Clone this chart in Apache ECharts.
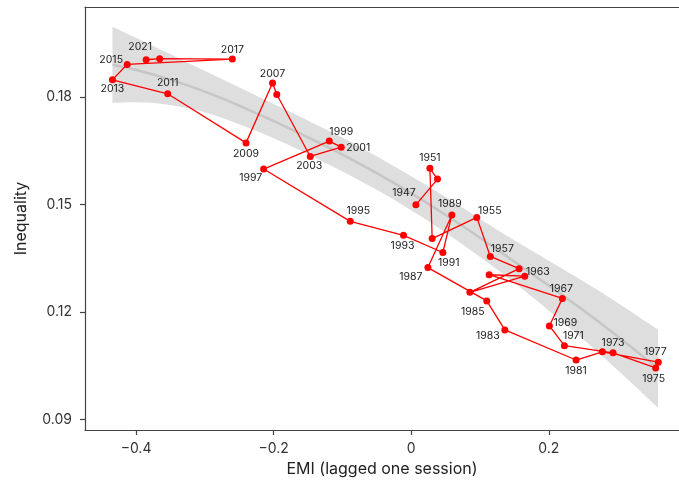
<!DOCTYPE html>
<html>
<head>
<meta charset="utf-8">
<script src="https://cdn.jsdelivr.net/npm/echarts@6/dist/echarts.min.js"></script>
<style>html,body{margin:0;padding:0;background:#fff}#c{width:679px;height:486px}</style>
</head>
<body>
<div id="c"></div>
<script>
// ---- data ----
const years = [1947,1949,1951,1953,1955,1957,1959,1961,1963,1965,1967,1969,1971,1973,1975,1977,1979,1981,1983,1985,1987,1989,1991,1993,1995,1997,1999,2001,2003,2005,2007,2009,2011,2013,2015,2017,2019,2021];
const emi = [0.0068,0.0382,0.0272,0.0305,0.0954,0.1150,0.1569,0.0853,0.1651,0.1133,0.2198,0.2009,0.2227,0.2934,0.3554,0.3592,0.2779,0.2397,0.1361,0.1099,0.0243,0.0591,0.0460,-0.0112,-0.0886,-0.2145,-0.1191,-0.1017,-0.1467,-0.1954,-0.2016,-0.2401,-0.3540,-0.4343,-0.4129,-0.2600,-0.3656,-0.3853];
const inequality = [0.1499,0.1571,0.1601,0.1405,0.1464,0.1355,0.1321,0.1255,0.1300,0.1304,0.1238,0.1161,0.1106,0.1086,0.1044,0.1060,0.1089,0.1066,0.1150,0.1231,0.1324,0.1471,0.1366,0.1414,0.1453,0.1599,0.1677,0.1660,0.1634,0.1807,0.1839,0.1672,0.1809,0.1848,0.1891,0.1906,0.1907,0.1904];
const labeledYears = [1947,1951,1955,1957,1963,1967,1969,1971,1973,1975,1977,1981,1983,1985,1987,1989,1991,1993,1995,1997,1999,2001,2003,2007,2009,2011,2013,2015,2017,2021];

// smoother (loess fit with confidence band)
const fitX = [-0.4343,-0.3791,-0.3065,-0.2338,-0.1612,-0.0886,-0.0160,0.0566,0.1293,0.2019,0.2745,0.3588];
const fitY = [0.1890,0.1865,0.1820,0.1762,0.1698,0.1628,0.1550,0.1463,0.1368,0.1271,0.1170,0.1042];
const bandLower = [0.1784,0.1784,0.1761,0.1712,0.1651,0.1581,0.1503,0.1413,0.1312,0.1201,0.1083,0.0933];
const bandUpper = [0.1996,0.1946,0.1879,0.1812,0.1745,0.1675,0.1597,0.1513,0.1424,0.1341,0.1257,0.1151];

const xTicks = [-0.4,-0.2,0,0.2];
const yTicks = [0.09,0.12,0.15,0.18];

// ---- label placement (pixels, relative to point centre) ----
const labelOffset = {
  1947:[-12,-12],1951:[0,-10],1955:[13,-7],1957:[12,-8],1963:[13,-4],1967:[-1,-10],
  1969:[16,-3],1971:[9,-10],1973:[0,-10],1975:[-2,11],1977:[-3,-10],1981:[0,11],
  1983:[-17,6],1985:[-14,11],1987:[-17,9],1989:[-2,-11],1991:[6,10],1993:[-1,11],
  1995:[8,-11],1997:[-13,9],1999:[12,-9],2001:[17,1],2003:[-1,9],2007:[0,-9],
  2009:[0,11],2011:[0,-11],2013:[0,9],2015:[-16,-5],2017:[0,-9],2021:[-6,-13]
};

const FONT = 'Inter, "Noto Sans", sans-serif';
const fmt = v => (v < 0 ? '\u2212' + Math.abs(v) : String(v));
const SYM = 7;

const pointData = years.map((yr, i) => {
  const d = { value: [emi[i], inequality[i]], name: String(yr) };
  if (labeledYears.indexOf(yr) >= 0) {
    const o = labelOffset[yr];
    d.label = { show: true, position: [SYM / 2 + o[0], SYM / 2 + o[1]], align: 'center', verticalAlign: 'middle', formatter: String(yr) };
  }
  return d;
});

function catmull(pts) {
  let s = '';
  for (let i = 0; i < pts.length - 1; i++) {
    const p0 = pts[Math.max(i - 1, 0)], p1 = pts[i], p2 = pts[i + 1], p3 = pts[Math.min(i + 2, pts.length - 1)];
    const c1 = [p1[0] + (p2[0] - p0[0]) / 6, p1[1] + (p2[1] - p0[1]) / 6];
    const c2 = [p2[0] - (p3[0] - p1[0]) / 6, p2[1] - (p3[1] - p1[1]) / 6];
    s += ' C' + c1[0] + ',' + c1[1] + ' ' + c2[0] + ',' + c2[1] + ' ' + p2[0] + ',' + p2[1];
  }
  return s;
}

const xMin = -0.4742, xMax = 0.3893, yMin = 0.08707, yMax = 0.20512;
const axisCol = '#444';

const chart = echarts.init(document.getElementById('c'), null, { renderer: 'canvas' });
chart.setOption({
  animation: false,
  backgroundColor: '#fff',
  grid: { left: 85, right: 0, top: 7, bottom: 56, containLabel: false },
  xAxis: [{
    type: 'value', min: xMin, max: xMax,
    splitLine: { show: false },
    axisLine: { show: true, onZero: false, lineStyle: { color: axisCol, width: 1.2 } },
    axisTick: { show: true, customValues: xTicks, length: 5, lineStyle: { color: axisCol, width: 1.2 } },
    axisLabel: { customValues: xTicks, formatter: fmt, fontSize: 14, color: '#333', margin: 12, fontFamily: FONT },
    name: 'EMI (lagged one session)', nameLocation: 'middle', nameGap: 31,
    nameTextStyle: { fontSize: 16, color: '#222', fontFamily: FONT }
  }, {
    type: 'value', position: 'top', min: xMin, max: xMax,
    splitLine: { show: false },
    axisLine: { show: true, onZero: false, lineStyle: { color: axisCol, width: 1.2 } },
    axisTick: { show: false }, axisLabel: { show: false }
  }],
  yAxis: {
    type: 'value', min: yMin, max: yMax,
    splitLine: { show: false },
    axisLine: { show: true, onZero: false, lineStyle: { color: axisCol, width: 1.2 } },
    axisTick: { show: true, customValues: yTicks, length: 5, lineStyle: { color: axisCol, width: 1.2 } },
    axisLabel: { customValues: yTicks, formatter: v => v.toFixed(2), fontSize: 14, color: '#333', margin: 13, fontFamily: FONT },
    name: 'Inequality', nameLocation: 'middle', nameGap: 56,
    nameTextStyle: { fontSize: 16, color: '#222', fontFamily: FONT }
  },
  series: [
    {
      type: 'custom', silent: true, z: 1,
      data: [[fitX[0], bandLower[0]]],
      renderItem: function (params, api) {
        const up = fitX.map((x, i) => api.coord([x, bandUpper[i]]));
        const lo = fitX.map((x, i) => api.coord([x, bandLower[i]])).reverse();
        let d = 'M' + up[0][0] + ',' + up[0][1] + catmull(up);
        d += ' L' + lo[0][0] + ',' + lo[0][1] + catmull(lo) + ' Z';
        return { type: 'path', shape: { pathData: d }, style: { fill: '#dedede', stroke: null } };
      }
    },
    {
      type: 'line', smooth: true, symbol: 'none', silent: true, z: 2,
      lineStyle: { color: '#c6c6c6', width: 2.5 },
      data: fitX.map((x, i) => [x, fitY[i]])
    },
    {
      type: 'line', z: 5,
      symbol: 'none',
      lineStyle: { color: '#ff0000', width: 1.3 },
      data: years.map((yr, i) => [emi[i], inequality[i]])
    },
    {
      type: 'scatter', z: 6,
      symbol: 'circle', symbolSize: SYM,
      itemStyle: { color: '#ff0000', opacity: 1 },
      label: { fontSize: 10.5, color: '#1a1a1a', fontFamily: FONT },
      data: pointData
    }
  ]
});
</script>
</body>
</html>
